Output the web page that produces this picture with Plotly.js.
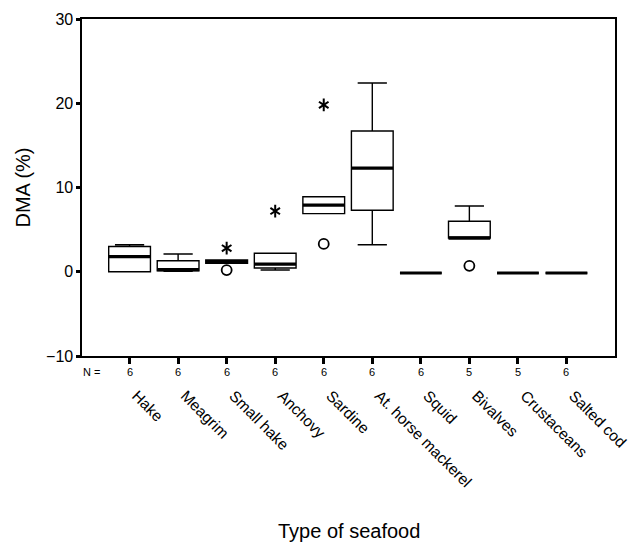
<!DOCTYPE html>
<html>
<head>
<meta charset="utf-8">
<script src="https://cdn.plot.ly/plotly-3.0.1.min.js"></script>
<style>html,body{margin:0;padding:0;background:#fff;}#chart{width:633px;height:542px;}</style>
</head>
<body>
<div id="chart"></div>
<script>
const categories = ["Hake","Meagrim","Small hake","Anchovy","Sardine","At. horse mackerel","Squid","Bivalves","Crustaceans","Salted cod"];
const nCounts = [6,6,6,6,6,6,6,5,5,6];
const q1 =        [0.0, 0.1, 1.0, 0.45, 6.9, 7.3, -0.15, 4.0, -0.15, -0.15];
const medians =   [1.8, 0.25, 1.2, 0.9, 7.9, 12.3, -0.15, 4.0, -0.15, -0.15];
const q3 =        [3.0, 1.3, 1.4, 2.2, 8.9, 16.7, -0.15, 6.0, -0.15, -0.15];
const lowerFence =[0.0, 0.05, 1.0, 0.2, 6.9, 3.2, -0.15, 4.0, -0.15, -0.15];
const upperFence =[3.2, 2.1, 1.4, 2.2, 8.9, 22.4, -0.15, 7.8, -0.15, -0.15];
// extreme values (*) and outliers (o): category index and value
const extremeIdx = [2, 3, 4];
const extremeVal = [2.8, 7.2, 19.8];
const outlierIdx = [2, 4, 7];
const outlierVal = [0.2, 3.3, 0.7];

const pos = categories.map((c, i) => i);
const boxW = 0.86;

const medX = [], medY = [];
pos.forEach((p, i) => { medX.push(p - boxW/2, p + boxW/2, null); medY.push(medians[i], medians[i], null); });

const traces = [
  {
    type: 'box', x: pos, q1: q1, median: medians, q3: q3,
    lowerfence: lowerFence, upperfence: upperFence,
    width: boxW, whiskerwidth: 0.7, boxpoints: false,
    fillcolor: '#ffffff', line: {color: '#000', width: 1.4},
    hoverinfo: 'skip', showlegend: false
  },
  {
    type: 'scatter', mode: 'lines', x: medX, y: medY,
    line: {color: '#000', width: 3.2}, hoverinfo: 'skip', showlegend: false
  },
  {
    type: 'scatter', mode: 'markers', x: extremeIdx, y: extremeVal,
    marker: {symbol: 'y-up-open', size: 8, color: '#000', line: {color: '#000', width: 2}},
    hoverinfo: 'skip', showlegend: false
  },
  {
    type: 'scatter', mode: 'markers', x: extremeIdx, y: extremeVal,
    marker: {symbol: 'y-down-open', size: 8, color: '#000', line: {color: '#000', width: 2}},
    hoverinfo: 'skip', showlegend: false
  },
  {
    type: 'scatter', mode: 'markers', x: outlierIdx, y: outlierVal,
    marker: {symbol: 'circle-open', size: 10, color: '#000', line: {color: '#000', width: 1.8}},
    hoverinfo: 'skip', showlegend: false
  }
];

const annotations = pos.map((p, i) => ({
  x: p, y: 0, xref: 'x', yref: 'paper', yshift: -16, yanchor: 'middle',
  text: String(nCounts[i]), showarrow: false,
  font: {family: 'Liberation Sans, Arial, sans-serif', size: 11, color: '#000'}
}));
annotations.push({
  x: (81 - 82) / 533, y: 0, xref: 'paper', yref: 'paper', yshift: -16, yanchor: 'middle',
  text: 'N =', showarrow: false,
  font: {family: 'Liberation Sans, Arial, sans-serif', size: 11, color: '#000'}
});
annotations.push({
  x: 0.5, y: 0, xref: 'paper', yref: 'paper', yshift: -175, yanchor: 'middle',
  text: 'Type of seafood', showarrow: false,
  font: {family: 'Liberation Sans, Arial, sans-serif', size: 20, color: '#000'}
});

const layout = {
  width: 633, height: 542,
  margin: {l: 82, r: 18, t: 19, b: 186},
  paper_bgcolor: '#fff', plot_bgcolor: '#fff',
  showlegend: false,
  font: {family: 'Liberation Sans, Arial, sans-serif', color: '#000'},
  xaxis: {
    range: [-0.98, 10], tickvals: pos, ticktext: categories,
    tickangle: 45, tickfont: {size: 15.5},
    ticks: 'outside', ticklen: 6, tickwidth: 3, tickcolor: '#000',
    ticklabelstandoff: 17, ticklabelshift: 7,
    showline: true, mirror: true, linecolor: '#000', linewidth: 1.6,
    showgrid: false, zeroline: false, fixedrange: true
  },
  yaxis: {
    range: [-10, 30], tickvals: [-10, 0, 10, 20, 30],
    tickfont: {size: 16},
    ticks: 'outside', ticklen: 4, tickwidth: 3, tickcolor: '#000',
    showline: true, mirror: true, linecolor: '#000', linewidth: 1.6,
    showgrid: false, zeroline: false, fixedrange: true,
    title: {text: 'DMA (%)', font: {size: 20}, standoff: 10}
  },
  annotations: annotations
};

Plotly.newPlot('chart', traces, layout, {displayModeBar: false, staticPlot: true});
</script>
</body>
</html>
